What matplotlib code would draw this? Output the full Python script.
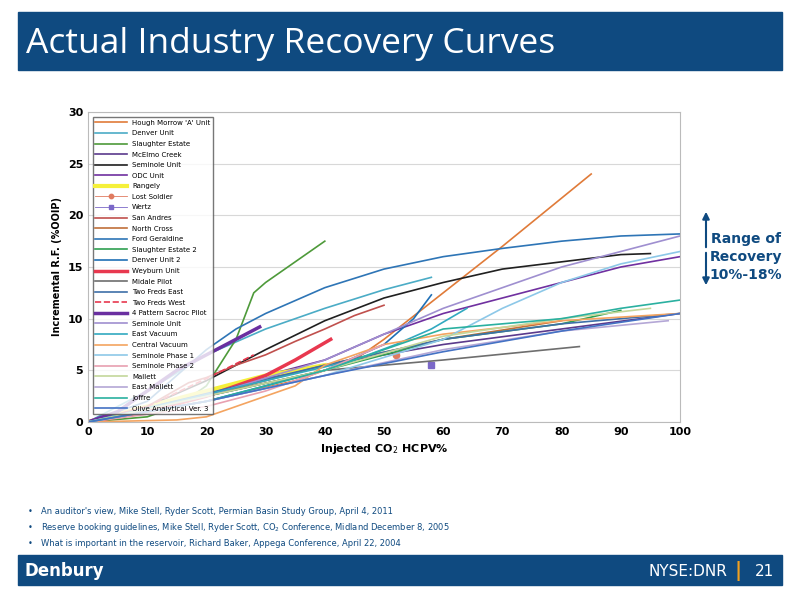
import matplotlib
matplotlib.use("Agg")
import matplotlib.pyplot as plt
from matplotlib.patches import Rectangle

names = ["Hough Morrow 'A' Unit", "Denver Unit", "Slaughter Estate", "McElmo Creek", "Seminole Unit",
         "ODC Unit", "Rangely", "Lost Soldier", "Wertz", "San Andres", "North Cross", "Ford Geraldine",
         "Slaughter Estate 2", "Denver Unit 2", "Weyburn Unit", "Midale Pilot", "Two Freds East",
         "Two Freds West", "4 Pattern Sacroc Pilot", "Seminole Unit", "East Vacuum", "Central Vacuum",
         "Seminole Phase 1", "Seminole Phase 2", "Mallett", "East Mallett", "Joffre", "Olive Analytical Ver. 3"]
xs = [
    [0, 20, 35, 45, 50, 60, 70, 85],
    [0, 5, 10, 20, 30, 40, 50, 58],
    [0, 10, 15, 20, 25, 28, 30, 35, 40],
    [0, 20, 40, 60, 80, 100],
    [0, 10, 20, 30, 40, 50, 60, 70, 80, 90, 95],
    [0, 20, 40, 50, 60, 70, 80, 90, 100],
    [0, 10, 20, 30, 35, 40],
    [52],
    [58],
    [0, 10, 17, 20, 25, 30, 35, 40, 45, 50],
    [0, 20, 40, 60, 80],
    [0, 10, 15, 20, 25, 30, 40, 50, 60, 70, 80, 90, 100],
    [0, 20, 40, 60, 80, 90],
    [0, 20, 40, 50, 55, 58],
    [0, 10, 20, 30, 35, 41],
    [0, 20, 40, 60, 83],
    [0, 40, 60, 80, 102],
    [0, 10, 20, 28],
    [0, 5, 10, 15, 20, 25, 29],
    [0, 20, 40, 60, 80, 100],
    [0, 30, 45, 52, 58, 64],
    [0, 15, 20, 25, 30, 35, 40, 50, 60, 80, 100],
    [0, 20, 40, 60, 70, 80, 90, 100],
    [0, 20, 30, 40, 50],
    [0, 20, 40, 60, 80, 95],
    [0, 20, 40, 60, 80, 98],
    [0, 20, 40, 60, 80, 90, 100],
    [0, 20, 40, 60, 80, 100],
]
ys = [
    [0, 2, 4, 6, 8, 12.5, 17, 24],
    [0, 1.5, 3, 6.5, 9, 11, 12.8, 14],
    [0, 0.5, 1.5, 3.5, 8, 12.5, 13.5, 15.5, 17.5],
    [0, 3, 5.5, 7.5, 9, 10.5],
    [0, 1.5, 4, 7, 9.8, 12, 13.5, 14.8, 15.5, 16.2, 16.3],
    [0, 3, 6, 8.5, 10.5, 12, 13.5, 15, 16],
    [0, 1.5, 3, 4.5, 5, 5.5],
    [6.5],
    [5.5],
    [0, 1.5, 3.8, 4.3, 5.5, 6.5, 7.8, 9, 10.3, 11.3],
    [0, 2.5, 5.5, 8, 9.8],
    [0, 2, 4.5, 7, 9, 10.5, 13, 14.8, 16, 16.8, 17.5, 18, 18.2],
    [0, 2.5, 5, 8, 9.5, 10.8],
    [0, 2, 5, 7.5, 10, 12.3],
    [0, 1, 2.5, 4.5, 6, 8],
    [0, 2.5, 5, 6, 7.3],
    [0, 5.5, 8, 9.5, 10.6],
    [0, 1.5, 4.2, 6.5],
    [0, 1, 3, 5, 6.5, 8, 9.2],
    [0, 2.5, 6, 11, 15, 18],
    [0, 4, 6, 7.5, 9, 11],
    [0, 0.2, 0.5, 1.5, 2.5, 3.5, 5.5, 7.5, 8.5, 9.8, 10.5],
    [0, 2, 4.5, 8, 11, 13.5, 15.3, 16.5],
    [0, 1.5, 3, 5, 7.5],
    [0, 2.5, 5, 8.3, 10, 11],
    [0, 2, 4.5, 7, 8.8, 9.8],
    [0, 2, 5, 9, 10, 11, 11.8],
    [0, 2, 4.5, 6.8, 8.8, 10.5],
]
colors = ["#E07B39", "#4BACC6", "#4E9A3A", "#5B3A8C", "#202020", "#7030A0", "#F5F03A", "#E07B60",
          "#7B68C8", "#C0504D", "#C0703A", "#2E75B6", "#2FA050", "#1F6FB5", "#E8384F", "#6E6E6E",
          "#3E6FA8", "#E8384F", "#6A2FA0", "#9F8FD0", "#31A9C0", "#F4A460", "#8DC8E8", "#E8A0B0",
          "#C4D79B", "#B4A7D6", "#2AB0A0", "#4472C4"]
widths = [1.2]*28
for i in (6,):
    widths[i] = 3
for i in (14, 18):
    widths[i] = 2.5

fig = plt.figure(figsize=(8, 6), dpi=100)
fig.patch.set_facecolor("white")
blue = "#0F4A80"
fig.patches.append(Rectangle((18/800, 1-70/600), 764/800, 58/600, transform=fig.transFigure, color=blue, zorder=0))
fig.text(26/800, 1-44/600, "Actual Industry Recovery Curves", color="white", fontsize=25.5,
         family="Open Sans", va="center")
fig.patches.append(Rectangle((18/800, 1-585/600), 764/800, 30/600, transform=fig.transFigure, color=blue, zorder=0))
fig.text(25/800, 1-571/600, "Denbury", color="white", fontsize=12, fontweight="bold", va="center")
fig.text(727/800, 1-571/600, "NYSE:DNR", color="white", fontsize=11, va="center", ha="right")
fig.text(738/800, 1-571/600, "|", color="#F0A020", fontsize=14, fontweight="bold", va="center", ha="center")
fig.text(765/800, 1-571/600, "21", color="white", fontsize=11, va="center", ha="center")

ax = fig.add_axes([88/800, 1-422/600, 592/800, 310/600])
for i in range(28):
    ls = "--" if i == 17 else "-"
    if len(xs[i]) == 1:
        mk = "o" if i == 7 else "s"
        ax.plot(xs[i], ys[i], marker=mk, ms=4.5, color=colors[i], lw=0.6, label=names[i])
    else:
        ax.plot(xs[i], ys[i], color=colors[i], lw=widths[i], ls=ls, label=names[i])
ax.set_xlim(0, 100)
ax.set_ylim(0, 30)
ax.set_xticks(range(0, 101, 10))
ax.set_yticks(range(0, 31, 5))
ax.yaxis.grid(True, color="#D8D8D8", lw=0.8)
ax.set_axisbelow(True)
for s in ax.spines.values():
    s.set_color("#BBBBBB")
ax.tick_params(length=0, labelsize=8)
for t in ax.get_xticklabels() + ax.get_yticklabels():
    t.set_fontweight("bold")
ax.set_xlabel("Injected CO$_2$ HCPV%", fontsize=8, fontweight="bold")
ax.set_ylabel("Incremental R.F. (%OOIP)", fontsize=7, fontweight="bold")
leg = ax.legend(loc="upper left", fontsize=5, handlelength=4.5, labelspacing=0.66, markerscale=0.7,
                frameon=True, fancybox=False, edgecolor="#555555", borderpad=0.4,
                bbox_to_anchor=(0.002, 0.995))

ax2 = fig.add_axes([0, 0, 1, 1], facecolor="none")
ax2.set_axis_off()
ax2.set_xlim(0, 800); ax2.set_ylim(600, 0)
ax2.annotate("", xy=(706, 209), xytext=(706, 250), arrowprops=dict(arrowstyle="-|>", color=blue, lw=1.5))
ax2.annotate("", xy=(706, 288), xytext=(706, 250), arrowprops=dict(arrowstyle="-|>", color=blue, lw=1.5))
ax2.text(746, 257, "Range of\nRecovery\n10%-18%", color=blue, fontsize=10, fontweight="bold",
         ha="center", va="center", linespacing=1.35)

bul = ["An auditor's view, Mike Stell, Ryder Scott, Permian Basin Study Group, April 4, 2011",
       "Reserve booking guidelines, Mike Stell, Ryder Scott, CO$_2$ Conference, Midland December 8, 2005",
       "What is important in the reservoir, Richard Baker, Appega Conference, April 22, 2004"]
for k, b in enumerate(bul):
    ax2.text(28, 512 + 15.5*k, "•", color=blue, fontsize=6, va="center")
    ax2.text(41, 512 + 15.5*k, b, color=blue, fontsize=6, va="center")

fig.savefig("out.png", dpi=100)
